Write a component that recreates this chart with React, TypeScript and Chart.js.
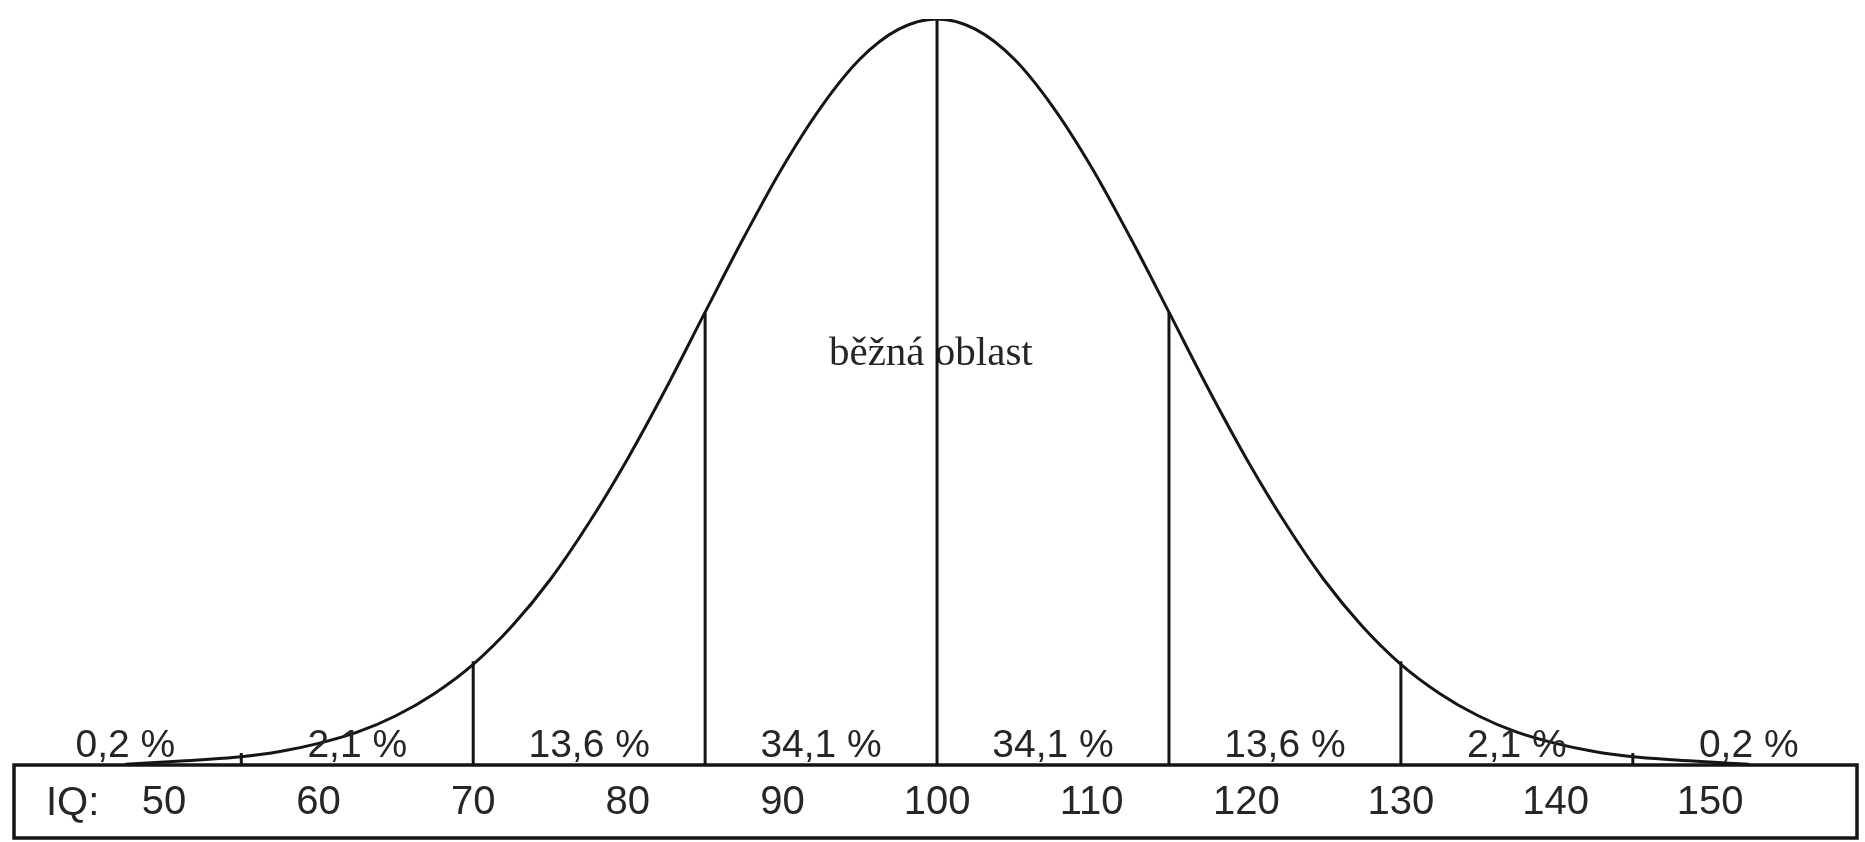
import React, { useEffect, useRef } from "react";
import { Chart, registerables } from "chart.js";

Chart.register(...registerables);

const iqPoints = [
  47.5, 50, 52.5, 55, 57.5, 60, 62.5, 65, 67.5, 70, 72.5, 75, 77.5, 80, 82.5, 85, 87.5, 90, 92.5, 95, 97.5,
  100, 102.5, 105, 107.5, 110, 112.5, 115, 117.5, 120, 122.5, 125, 127.5, 130, 132.5, 135, 137.5, 140, 142.5,
  145, 147.5, 150, 152.5,
];
// relative frequency (peak = 100)
const density = [
  0.1, 0.4, 0.7, 1.1, 1.8, 2.9, 4.4, 6.6, 9.6, 13.5, 18.6, 24.9, 32.5, 41.1, 50.6, 60.7, 70.7, 80.1, 88.2,
  94.6, 98.6, 100, 98.6, 94.6, 88.2, 80.1, 70.7, 60.7, 50.6, 41.1, 32.5, 24.9, 18.6, 13.5, 9.6, 6.6, 4.4, 2.9,
  1.8, 1.1, 0.7, 0.4, 0.1,
];
// dividing lines (every 15 IQ points) and their heights
const boundaries = [55, 70, 85, 100, 115, 130, 145];
const boundaryHeights = [1.6, 13.9, 60.7, 100, 60.7, 13.9, 1.6];
// share of population in each band
const shareLabels = ["0,2 %", "2,1 %", "13,6 %", "34,1 %", "34,1 %", "13,6 %", "2,1 %", "0,2 %"];
const shareCenters = [47.5, 62.5, 77.5, 92.5, 107.5, 122.5, 137.5, 152.5];
// axis
const tickValues = [50, 60, 70, 80, 90, 100, 110, 120, 130, 140, 150];
const axisName = "IQ:";
const regionLabel = "běžná oblast";
const regionLabelIQ = 99.6;
const regionLabelLevel = 53.6;

const SANS = "'Liberation Sans', Arial, sans-serif";
const SERIF = "'Liberation Serif', 'Times New Roman', serif";
const INK = "#151515";
const TEXT = "#262626";

export default function App() {
  const ref = useRef<HTMLCanvasElement | null>(null);

  useEffect(() => {
    if (!ref.current) return;

    const curve = iqPoints.map((x, i) => ({ x, y: density[i] }));
    const lines: { x: number; y: number | null }[] = [];
    boundaries.forEach((b, i) => {
      lines.push({ x: b, y: 0 });
      lines.push({ x: b, y: boundaryHeights[i] });
      lines.push({ x: b, y: null });
    });

    const decor = {
      id: "decor",
      beforeDatasetsDraw(chart: any) {
        const { ctx, scales } = chart;
        ctx.save();
        ctx.fillStyle = TEXT;
        ctx.font = `41px ${SERIF}`;
        ctx.textAlign = "center";
        ctx.textBaseline = "alphabetic";
        ctx.fillText(regionLabel, scales.x.getPixelForValue(regionLabelIQ), scales.y.getPixelForValue(regionLabelLevel));
        ctx.restore();
      },
      afterDatasetsDraw(chart: any) {
        const { ctx, chartArea, scales } = chart;
        ctx.save();
        // percentage labels
        ctx.fillStyle = TEXT;
        ctx.font = `39px ${SANS}`;
        ctx.textAlign = "center";
        ctx.textBaseline = "alphabetic";
        shareLabels.forEach((t, i) => {
          ctx.fillText(t, scales.x.getPixelForValue(shareCenters[i]), chartArea.bottom - 8);
        });
        // axis box
        ctx.strokeStyle = INK;
        ctx.lineWidth = 3.5;
        ctx.strokeRect(chartArea.left, chartArea.bottom, chartArea.right - chartArea.left, 838 - chartArea.bottom);
        // axis name
        ctx.font = `40px ${SANS}`;
        ctx.textAlign = "left";
        ctx.fillText(axisName, 46, 815);
        ctx.restore();
      },
    };

    const chart = new Chart(ref.current, {
      type: "line",
      data: {
        datasets: [
          {
            data: curve,
            borderColor: INK,
            borderWidth: 3,
            pointRadius: 0,
            cubicInterpolationMode: "monotone",
            fill: false,
          },
          {
            data: lines as any,
            borderColor: INK,
            borderWidth: 3,
            pointRadius: 0,
            spanGaps: false,
            tension: 0,
            fill: false,
          },
        ],
      },
      options: {
        responsive: false,
        devicePixelRatio: 1,
        animation: false,
        events: [],
        layout: { padding: { left: 14, right: 8, top: 19, bottom: 3 } },
        plugins: { legend: { display: false }, tooltip: { enabled: false } },
        scales: {
          x: {
            type: "linear",
            min: 40.3,
            max: 159.5,
            grid: { display: false, drawTicks: false },
            border: { display: false },
            afterBuildTicks: (axis: any) => {
              axis.ticks = tickValues.map((v) => ({ value: v }));
            },
            afterFit: (axis: any) => {
              axis.height = 74;
            },
            ticks: {
              autoSkip: false,
              maxRotation: 0,
              padding: 14,
              color: TEXT,
              font: { family: SANS, size: 40 },
              callback: (v: any) => String(v),
            },
          } as any,
          y: { display: false, min: 0, max: 100 },
        },
      },
      plugins: [decor],
    });

    return () => chart.destroy();
  }, []);

  return (
    <div style={{ position: "absolute", left: 0, top: 0, width: 1865, height: 842, background: "#fff" }}>
      <canvas ref={ref} width={1865} height={842} style={{ display: "block" }} />
    </div>
  );
}
